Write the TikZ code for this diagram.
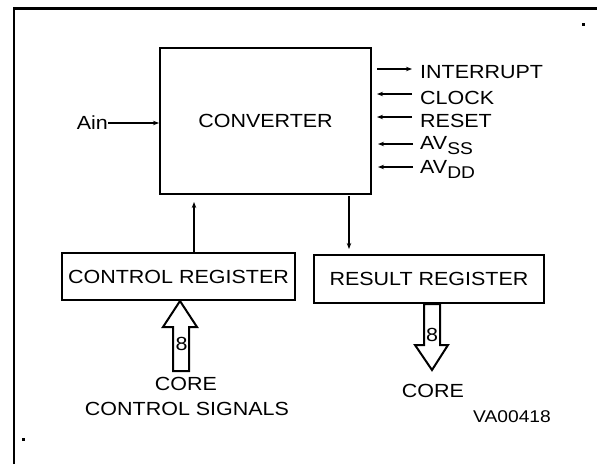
\documentclass[tikz,border=0pt]{standalone}
\usepackage{fontspec}
\setmainfont{Liberation Sans}[FakeStretch=1.13]
\usetikzlibrary{arrows.meta}
\begin{document}
\begin{tikzpicture}[x=1pt,y=-1pt,
  box/.style={draw,line width=2pt,inner sep=0pt,font=\fontsize{19}{21}\selectfont},
  lbl/.style={inner sep=0pt,font=\fontsize{19}{21}\selectfont},
  sig/.style={line width=1.6pt,-{Stealth[length=6pt,width=4.5pt]}},
  hollow/.style={draw,line width=2pt,line join=miter,fill=white}]
\useasboundingbox (0,0) rectangle (597,464);
% frame
\draw[line width=2.2pt] (14,464) -- (14,8.5) -- (597,8.5);
\fill (582,23) rectangle (584.5,25.5);
\fill (22,438) rectangle (24.5,440.5);
% boxes
\node[box,minimum width=211pt,minimum height=146pt] (conv) at (265.5,121) {CONVERTER};
\node[box,minimum width=233pt,minimum height=47pt] (ctrl) at (178.5,276.5) {CONTROL REGISTER};
\node[box,minimum width=230pt,minimum height=48pt] (res) at (429,279) {RESULT REGISTER};
% Ain
\node[lbl,anchor=east] (ain) at (108,123) {Ain};
\draw[sig] (ain.east) -- (conv.west |- ain.east);
% right signals
\node[lbl,anchor=west] (int) at (420,72) {INTERRUPT};
\node[lbl,anchor=west] (clk) at (420,98) {CLOCK};
\node[lbl,anchor=west] (rst) at (420,121) {RESET};
\node[lbl,anchor=west] (avss) at (420,146) {AV\raisebox{-0.5ex}{\fontsize{17}{18}\selectfont SS}};
\node[lbl,anchor=west] (avdd) at (420,169) {AV\raisebox{-0.5ex}{\fontsize{17}{18}\selectfont DD}};
\coordinate (i0) at (377,69); \coordinate (i1) at (412,69);
\coordinate (c0) at (377,94); \coordinate (c1) at (412,94);
\coordinate (r0) at (377,117); \coordinate (r1) at (412,117);
\coordinate (s0) at (378,144); \coordinate (s1) at (413,144);
\coordinate (d0) at (378,167); \coordinate (d1) at (413,167);
\draw[sig] (i0) -- (i1);
\draw[sig] (c1) -- (c0);
\draw[sig] (r1) -- (r0);
\draw[sig] (s1) -- (s0);
\draw[sig] (d1) -- (d0);
% vertical connectors
\coordinate (up0) at (194,253); \coordinate (up1) at (194,202);
\draw[sig] (ctrl.north -| up0) -- (up1);
\coordinate (dn0) at (349,196); \coordinate (dn1) at (349,249);
\draw[sig] (dn0) -- (dn1);
% hollow bus arrows
\draw[hollow] (180,301) -- (197,327) -- (189,327) -- (189,371) -- (173,371) -- (173,327) -- (163,327) -- cycle;
\node[lbl] (b1) at (181.5,344) {8};
\draw[hollow] (424,304) -- (440,304) -- (440,345) -- (448,345) -- (432,370) -- (415,345) -- (424,345) -- cycle;
\node[lbl] (b2) at (432,335) {8};
% bottom texts
\node[lbl] (core1) at (186,384) {CORE};
\node[lbl] (css) at (187,409) {CONTROL SIGNALS};
\node[lbl] (core2) at (433,391) {CORE};
\node[lbl,font=\fontsize{17}{19}\selectfont] (va) at (512,417) {VA00418};
\end{tikzpicture}
\end{document}
